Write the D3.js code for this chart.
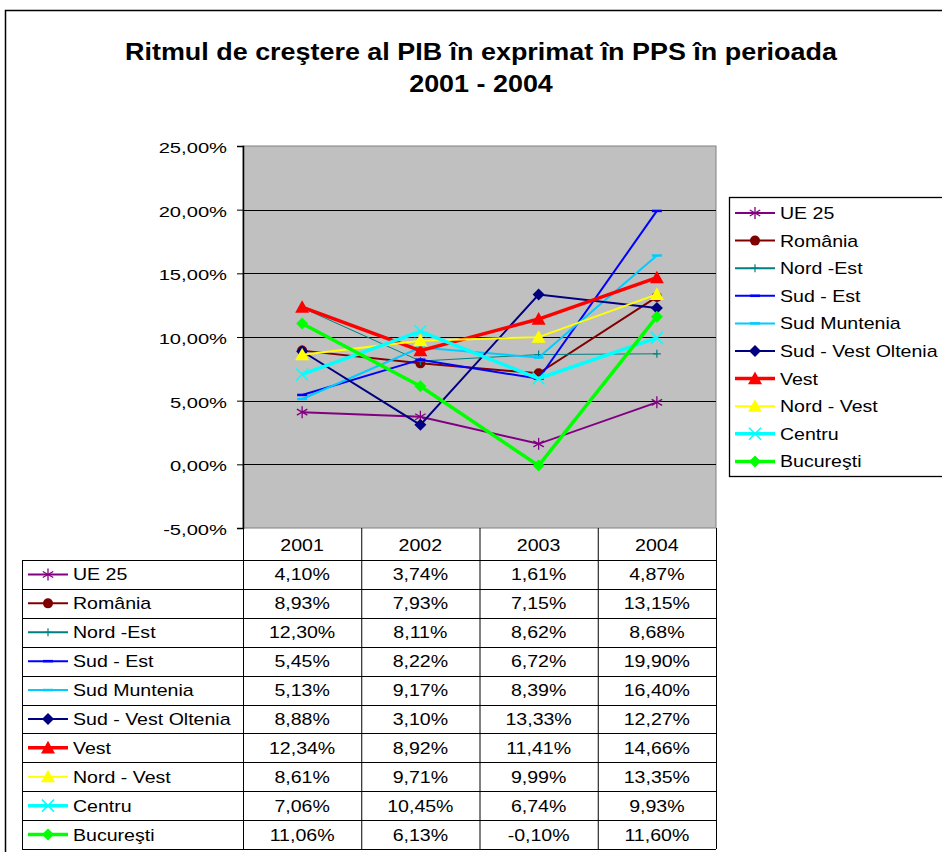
<!DOCTYPE html>
<html>
<head>
<meta charset="utf-8">
<script src="https://cdn.jsdelivr.net/npm/d3@7"></script>
<style>
  body { margin: 0; background: #fff; }
  svg text { font-family: "Liberation Sans", Arial, sans-serif; }
</style>
</head>
<body>
<div id="root"></div>
<script>
// chart data
const years = ['2001', '2002', '2003', '2004'];
const seriesNames = ['UE 25', 'România', 'Nord -Est', 'Sud - Est', 'Sud Muntenia',
  'Sud - Vest Oltenia', 'Vest', 'Nord - Vest', 'Centru', 'Bucureşti'];
const ue25 = [4.10, 3.74, 1.61, 4.87];
const romania = [8.93, 7.93, 7.15, 13.15];
const nordEst = [12.30, 8.11, 8.62, 8.68];
const sudEst = [5.45, 8.22, 6.72, 19.90];
const sudMuntenia = [5.13, 9.17, 8.39, 16.40];
const sudVestOltenia = [8.88, 3.10, 13.33, 12.27];
const vest = [12.34, 8.92, 11.41, 14.66];
const nordVest = [8.61, 9.71, 9.99, 13.35];
const centru = [7.06, 10.45, 6.74, 9.93];
const bucuresti = [11.06, 6.13, -0.10, 11.60];
const yTicks = [-5, 0, 5, 10, 15, 20, 25];

const allValues = [ue25, romania, nordEst, sudEst, sudMuntenia, sudVestOltenia, vest, nordVest, centru, bucuresti];

// look of each series: colour, marker, line width
const styles = [
  { color: '#800080', marker: 'star', width: 2 },
  { color: '#800000', marker: 'circle', width: 2 },
  { color: '#008080', marker: 'plus', width: 1 },
  { color: '#0000FF', marker: 'dash', width: 2 },
  { color: '#00CCFF', marker: 'dash', width: 2 },
  { color: '#000080', marker: 'diamond', width: 2 },
  { color: '#FF0000', marker: 'triangle', width: 3.5 },
  { color: '#FFFF00', marker: 'triangle', width: 2 },
  { color: '#00FFFF', marker: 'cross', width: 3.5 },
  { color: '#00FF00', marker: 'diamond', width: 3.5 }
];

const series = seriesNames.map((name, i) => ({ name, values: allValues[i], style: styles[i] }));

const locale = d3.formatLocale({ decimal: ',', thousands: '.', grouping: [3], currency: ['', ''], minus: '-' });
const pct = v => locale.format('.2f')(v) + '%';

// the original text is drawn a bit wider than the font
function stretch(sel, k) {
  sel.each(function () {
    const len = this.getComputedTextLength();
    d3.select(this).attr('textLength', len * k).attr('lengthAdjust', 'spacingAndGlyphs');
  });
}

const svg = d3.select('#root').append('svg')
  .attr('width', 942)
  .attr('height', 852);

// outer chart frame
svg.append('path')
  .attr('d', 'M5.5,852 V10.5 H942')
  .attr('fill', 'none')
  .attr('stroke', '#000')
  .attr('stroke-width', 1.5);

// title
const titleLines = ['Ritmul de creştere al PIB în exprimat în PPS în perioada', '2001 - 2004'];
svg.append('g').selectAll('text')
  .data(titleLines)
  .join('text')
  .attr('x', 481).attr('y', (d, i) => 60 + i * 32)
  .attr('text-anchor', 'middle')
  .style('font-size', '23px').style('font-weight', 'bold')
  .text(d => d)
  .call(stretch, 1.17);

const plot = { left: 243, right: 716, top: 146, bottom: 528 };

const x = d3.scaleBand().domain(years).range([plot.left, plot.right]).padding(0);
const cx = d => x(d) + x.bandwidth() / 2;
const y = d3.scaleLinear().domain([-5, 25]).range([plot.bottom, plot.top]);

// plot area
svg.append('rect')
  .attr('x', plot.left).attr('y', plot.top)
  .attr('width', plot.right - plot.left).attr('height', plot.bottom - plot.top)
  .attr('fill', '#C0C0C0')
  .attr('stroke', '#808080');

svg.append('g')
  .selectAll('line')
  .data(yTicks.filter(t => t > -5 && t < 25))
  .join('line')
  .attr('x1', plot.left).attr('x2', plot.right)
  .attr('y1', d => Math.round(y(d)) + 0.5).attr('y2', d => Math.round(y(d)) + 0.5)
  .attr('stroke', '#000');

const yAxis = svg.append('g')
  .attr('transform', `translate(${plot.left},0)`)
  .call(d3.axisLeft(y).tickValues(yTicks).tickSize(6).tickPadding(10).tickFormat(pct));
yAxis.select('.domain').attr('stroke', '#000').attr('stroke-width', 1.5);
yAxis.selectAll('text')
  .style('font-size', '15.5px').attr('fill', '#000').attr('dy', '0.42em')
  .call(stretch, 1.3);

// marker drawing
function drawMarker(g, type, color, px, py) {
  if (type === 'star') {
    const r = 6;
    [[0, -r, 0, r], [-r * 0.87, -r * 0.5, r * 0.87, r * 0.5], [-r * 0.87, r * 0.5, r * 0.87, -r * 0.5]]
      .forEach(l => g.append('line')
        .attr('x1', px + l[0]).attr('y1', py + l[1]).attr('x2', px + l[2]).attr('y2', py + l[3])
        .attr('stroke', color).attr('stroke-width', 1.3));
  } else if (type === 'circle') {
    g.append('circle').attr('cx', px).attr('cy', py).attr('r', 5).attr('fill', color);
  } else if (type === 'plus') {
    g.append('path').attr('d', `M${px - 4},${py}H${px + 4}M${px},${py - 4}V${py + 4}`)
      .attr('stroke', color).attr('stroke-width', 1.2);
  } else if (type === 'dash') {
    g.append('line').attr('x1', px - 5).attr('x2', px + 5).attr('y1', py).attr('y2', py)
      .attr('stroke', color).attr('stroke-width', 2.5);
  } else if (type === 'diamond') {
    g.append('path').attr('d', `M${px},${py - 6}L${px + 6},${py}L${px},${py + 6}L${px - 6},${py}Z`)
      .attr('fill', color);
  } else if (type === 'triangle') {
    g.append('path').attr('d', `M${px},${py - 7}L${px + 7},${py + 5.6}L${px - 7},${py + 5.6}Z`)
      .attr('fill', color);
  } else if (type === 'cross') {
    g.append('path').attr('d', `M${px - 6},${py - 6}L${px + 6},${py + 6}M${px - 6},${py + 6}L${px + 6},${py - 6}`)
      .attr('stroke', color).attr('stroke-width', 1.5);
  }
}

const line = d3.line().x((d, i) => cx(years[i])).y(d => y(d));

const lines = svg.append('g');
series.forEach(s => {
  const g = lines.append('g');
  g.append('path')
    .attr('d', line(s.values))
    .attr('fill', 'none')
    .attr('stroke', s.style.color)
    .attr('stroke-width', s.style.width);
  s.values.forEach((v, i) => drawMarker(g, s.style.marker, s.style.color, cx(years[i]), y(v)));
});

// legend
const legend = { x: 729, y: 197, w: 220, h: 279 };
svg.append('rect')
  .attr('x', legend.x + 0.5).attr('y', legend.y + 0.5)
  .attr('width', legend.w).attr('height', legend.h)
  .attr('fill', '#fff').attr('stroke', '#000').attr('stroke-width', 1.3);

const legStep = 27.6;
series.forEach((s, i) => {
  const ly = 213 + i * legStep;
  const g = svg.append('g');
  g.append('line').attr('x1', 735).attr('x2', 775).attr('y1', ly).attr('y2', ly)
    .attr('stroke', s.style.color).attr('stroke-width', Math.max(2, s.style.width));
  drawMarker(g, s.style.marker, s.style.color, 755, ly);
  g.append('text').attr('x', 780).attr('y', ly + 6)
    .style('font-size', '17px').text(s.name)
    .call(stretch, 1.15);
});

// data table
const table = { left: 22, top: 528, headerBottom: 560, rowH: 28.9 };
const tg = svg.append('g');
const colEdges = [plot.left].concat(years.map(yr => x(yr) + x.bandwidth()));

colEdges.forEach(edge => {
  tg.append('line').attr('x1', edge + 0.5).attr('x2', edge + 0.5)
    .attr('y1', table.top).attr('y2', table.headerBottom + series.length * table.rowH)
    .attr('stroke', '#000');
});
tg.append('line').attr('x1', table.left + 0.5).attr('x2', table.left + 0.5)
  .attr('y1', table.headerBottom).attr('y2', table.headerBottom + series.length * table.rowH)
  .attr('stroke', '#000');
years.forEach(yr => {
  tg.append('text').attr('x', cx(yr)).attr('y', table.top + 23)
    .attr('text-anchor', 'middle').style('font-size', '17px').text(yr)
    .call(stretch, 1.15);
});
for (let r = 0; r <= series.length; r++) {
  const ly = Math.round(table.headerBottom + r * table.rowH) + 0.5;
  tg.append('line').attr('x1', table.left).attr('x2', plot.right).attr('y1', ly).attr('y2', ly)
    .attr('stroke', '#000');
}
series.forEach((s, r) => {
  const ry = table.headerBottom + r * table.rowH + table.rowH / 2;
  tg.append('line').attr('x1', 28).attr('x2', 68).attr('y1', ry).attr('y2', ry)
    .attr('stroke', s.style.color).attr('stroke-width', Math.max(2, s.style.width));
  drawMarker(tg, s.style.marker, s.style.color, 48, ry);
  tg.append('text').attr('x', 73).attr('y', ry + 6).style('font-size', '17px').text(s.name)
    .call(stretch, 1.15);
  s.values.forEach((v, i) => {
    tg.append('text').attr('x', cx(years[i])).attr('y', ry + 6)
      .attr('text-anchor', 'middle').style('font-size', '17px').text(pct(v))
      .call(stretch, 1.15);
  });
});
</script>
</body>
</html>
